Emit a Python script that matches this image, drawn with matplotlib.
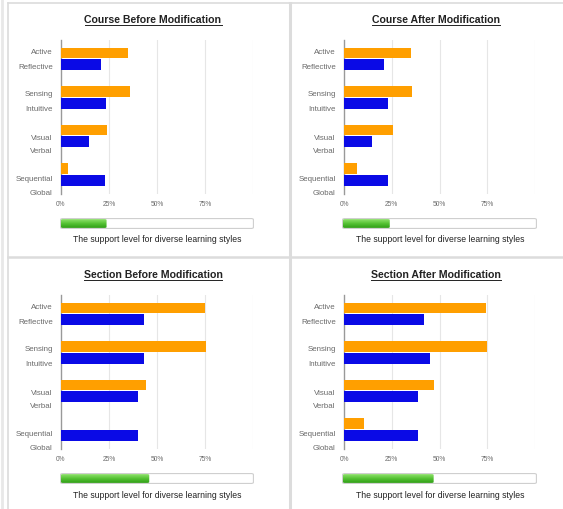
import matplotlib
matplotlib.use("Agg")
import matplotlib.pyplot as plt
import numpy as np
from matplotlib.patches import FancyBboxPatch
from matplotlib.lines import Line2D
from matplotlib.colors import LinearSegmentedColormap

plt.rcParams['font.family'] = ['Liberation Sans', 'DejaVu Sans']

titles = ["Course Before Modification", "Course After Modification",
          "Section Before Modification", "Section After Modification"]
labels_a = ["Active", "Sensing", "Visual", "Sequential"]
labels_b = ["Reflective", "Intuitive", "Verbal", "Global"]

course_before_orange = [35, 36, 24, 3.5]
course_before_blue = [21, 23.5, 14.5, 23]
course_after_orange = [35, 35.5, 25.5, 7]
course_after_blue = [21, 23, 14.5, 23]
section_before_orange = [75, 75.5, 44.5, 0]
section_before_blue = [43, 43, 40, 40]
section_after_orange = [74.5, 75, 47, 10.5]
section_after_blue = [42, 45, 39, 39]
support_level = [24, 24.5, 46, 47]

xticks = [0, 25, 50, 75]
xtick_labels = ["0%", "25%", "50%", "75%"]
support_text = "The support level for diverse learning styles"

orange_series = [course_before_orange, course_after_orange, section_before_orange, section_after_orange]
blue_series = [course_before_blue, course_after_blue, section_before_blue, section_after_blue]

W, H = 563, 509
fig = plt.figure(figsize=(W / 100, H / 100), dpi=100)
fig.patch.set_facecolor("white")

def fx(px):
    return px / W

def fy(py):
    return 1 - py / H

panels = [
    dict(x0=61, x1=253, yoff=0, tx=153, bx0=60, bx1=254),
    dict(x0=344, x1=535, yoff=0, tx=436, bx0=342, bx1=537),
    dict(x0=61, x1=253, yoff=255, tx=153, bx0=60, bx1=254),
    dict(x0=344, x1=535, yoff=255, tx=436, bx0=342, bx1=537),
]

ORANGE = "#ff9f00"
BLUE = "#0a0ae6"
LABEL_C = "#6a6a6a"

label_pos_a = [0.31, 1.40, 2.52, 3.61]
label_pos_b = [0.70, 1.77, 2.88, 3.95]

cmap = LinearSegmentedColormap.from_list("g", ["#2f9e16", "#55c234", "#8fe26c"])

title_texts = []
for i, p in enumerate(panels):
    yo = p["yoff"]
    ax = fig.add_axes([fx(p["x0"]), fy(194 + yo), fx(p["x1"] - p["x0"]), 154 / H])
    n = len(labels_a)
    idx = np.arange(n)
    ax.barh(idx + 0.34, orange_series[i], height=0.27, color=ORANGE, zorder=3)
    ax.barh(idx + 0.64, blue_series[i], height=0.29, color=BLUE, zorder=3)
    ax.set_xlim(0, 100)
    ax.set_ylim(4, 0)
    for g in [25, 50, 75, 100]:
        ax.axvline(g, color="#e6e6e6", lw=0.8, zorder=1)
    for s in ["top", "right", "bottom"]:
        ax.spines[s].set_visible(False)
    ax.spines["left"].set_color("#999999")
    ax.spines["left"].set_linewidth(1.0)
    ax.set_xticks(xticks)
    ax.set_xticklabels(xtick_labels, fontsize=4.8, color=LABEL_C)
    ax.tick_params(axis="x", length=0, pad=5)
    ax.tick_params(axis="y", length=0, pad=6)
    ax.set_yticks(label_pos_a + label_pos_b)
    ax.set_yticklabels(labels_a + labels_b, fontsize=5.7, color=LABEL_C)
    ax.set_facecolor("none")

    t = fig.text(fx(p["tx"]), fy(20 + yo), titles[i], ha="center", va="center",
                 fontsize=7.6, fontweight="bold", color="#222222")
    title_texts.append(t)

    bax = fig.add_axes([fx(p["bx0"]), fy(229 + yo), fx(p["bx1"] - p["bx0"]), 11 / H])
    bax.set_xlim(0, 100)
    bax.set_ylim(0, 1)
    bax.axis("off")
    frame = FancyBboxPatch((0.3, 0.05), 99.4, 0.9, boxstyle="round,pad=0,rounding_size=1.2",
                           mutation_aspect=0.08, facecolor="white", edgecolor="#cfcfcf", lw=0.8,
                           zorder=1)
    bax.add_patch(frame)
    grad = np.linspace(0, 1, 50).reshape(-1, 1)
    im = bax.imshow(grad, cmap=cmap, aspect="auto", extent=(0.5, support_level[i], 0.1, 0.9),
                    origin="lower", zorder=2)
    clip = FancyBboxPatch((0.5, 0.1), support_level[i] - 0.5, 0.8,
                          boxstyle="round,pad=0,rounding_size=1.0", mutation_aspect=0.08,
                          transform=bax.transData, facecolor="none", edgecolor="none")
    bax.add_patch(clip)
    im.set_clip_path(clip)

    fig.text(fx(p["tx"] + 4), fy(240 + yo), support_text, ha="center", va="center",
             fontsize=6.2, color="#222222")

fig.canvas.draw()
r = fig.canvas.get_renderer()
for t in title_texts:
    bb = t.get_window_extent(renderer=r)
    y = bb.y0 - 0.3
    fig.add_artist(Line2D([bb.x0 / W, bb.x1 / W], [y / H, y / H], color="#222222", lw=0.7))

border = "#dcdcdc"
fig.add_artist(Line2D([fx(8), fx(8)], [0, fy(3)], color=border, lw=1.2))
fig.add_artist(Line2D([fx(8), 1], [fy(3), fy(3)], color=border, lw=1.2))
fig.add_artist(Line2D([fx(290), fx(290)], [0, fy(3)], color=border, lw=2.2))
fig.add_artist(Line2D([fx(8), 1], [fy(257), fy(257)], color=border, lw=1.8))
fig.add_artist(Line2D([fx(2), fx(2)], [0, 1], color="#e8e8e8", lw=2.0))

fig.savefig("out.png", dpi=100, facecolor="white")
